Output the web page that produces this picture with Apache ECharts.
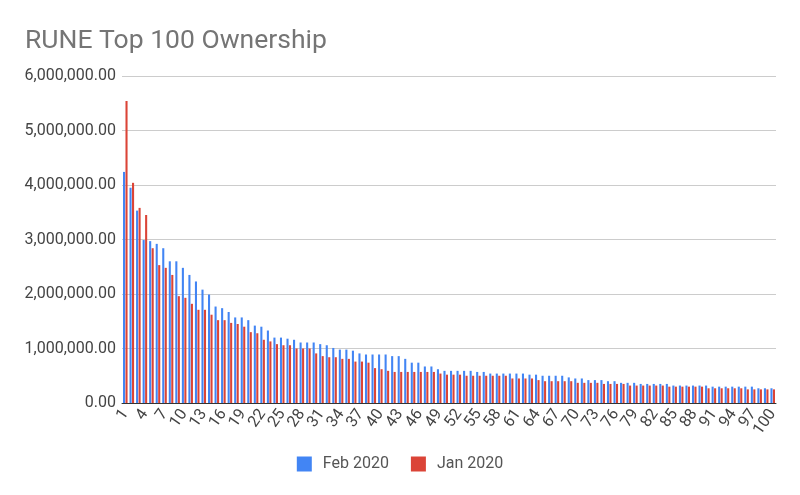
<!DOCTYPE html>
<html>
<head>
<meta charset="utf-8">
<script src="https://cdn.jsdelivr.net/npm/echarts@6/dist/echarts.min.js"></script>
<style>
html,body{margin:0;padding:0;background:#fff;}
#chart{width:800px;height:495px;}
</style>
</head>
<body>
<div id="chart"></div>
<script>
// ranks 1..100
var ranks = [];
for (var i = 1; i <= 100; i++) ranks.push(String(i));

// values in millions
var feb2020 = [
  4.24,3.95,3.53,2.99,2.97,2.92,2.84,2.60,2.60,2.48,
  2.35,2.23,2.08,1.99,1.77,1.74,1.67,1.57,1.57,1.52,
  1.42,1.40,1.33,1.20,1.20,1.18,1.16,1.11,1.11,1.11,
  1.08,1.06,1.01,0.98,0.98,0.96,0.91,0.89,0.89,0.89,
  0.89,0.86,0.86,0.81,0.74,0.74,0.67,0.67,0.62,0.59,
  0.59,0.59,0.59,0.59,0.57,0.57,0.54,0.54,0.54,0.54,
  0.54,0.54,0.52,0.52,0.50,0.50,0.50,0.50,0.47,0.45,
  0.45,0.42,0.42,0.42,0.40,0.40,0.37,0.37,0.37,0.35,
  0.35,0.35,0.35,0.35,0.32,0.32,0.32,0.32,0.32,0.32,
  0.30,0.30,0.30,0.30,0.30,0.30,0.30,0.27,0.27,0.27
];
var jan2020 = [
  5.54,4.04,3.58,3.45,2.84,2.53,2.48,2.35,1.96,1.93,
  1.82,1.71,1.71,1.62,1.52,1.52,1.47,1.45,1.40,1.30,
  1.28,1.16,1.13,1.08,1.06,1.06,1.00,1.00,1.00,0.91,
  0.86,0.84,0.84,0.81,0.81,0.76,0.76,0.74,0.64,0.62,
  0.59,0.57,0.57,0.57,0.57,0.57,0.57,0.57,0.54,0.52,
  0.52,0.52,0.50,0.50,0.50,0.50,0.50,0.50,0.50,0.45,
  0.45,0.45,0.45,0.42,0.40,0.40,0.40,0.40,0.40,0.37,
  0.37,0.37,0.37,0.35,0.35,0.35,0.35,0.32,0.32,0.32,
  0.32,0.32,0.32,0.30,0.30,0.30,0.30,0.30,0.30,0.27,
  0.27,0.27,0.27,0.27,0.27,0.25,0.25,0.25,0.25,0.25
];

function toUnits(arr){
  var out = [];
  for (var i = 0; i < arr.length; i++) out.push(Math.round(arr[i] * 1000000));
  return out;
}
function fmt(v){
  return v.toLocaleString('en-US', {minimumFractionDigits:2, maximumFractionDigits:2});
}

var myChart = echarts.init(document.getElementById('chart'));
var option = {
  animation: false,
  textStyle: { fontFamily: 'Roboto' },
  title: {
    text: 'RUNE Top 100 Ownership',
    left: 20, top: 23,
    textStyle: { fontFamily: 'Roboto', fontSize: 26.5, fontWeight: 'normal', color: '#757575' }
  },
  legend: {
    data: ['Feb 2020', 'Jan 2020'],
    bottom: 18,
    left: 'center',
    itemWidth: 15, itemHeight: 15,
    itemGap: 22,
    icon: 'rect',
    textStyle: { fontFamily: 'Roboto', fontSize: 16, color: '#555', padding: [0, 0, 0, 6] }
  },
  color: ['#4285F4', '#DB4437'],
  grid: { left: 122, right: 24, top: 76, bottom: 92 },
  xAxis: {
    type: 'category',
    data: ranks,
    axisLine: { lineStyle: { color: '#333', width: 1 } },
    axisTick: { show: false },
    axisLabel: {
      interval: 2, rotate: 55, margin: 8,
      fontFamily: 'Roboto', fontSize: 16, color: '#444'
    }
  },
  yAxis: {
    type: 'value',
    min: 0, max: 6000000, interval: 1000000,
    axisLine: { show: false },
    axisTick: { show: false },
    splitLine: { lineStyle: { color: '#cccccc', width: 1 } },
    axisLabel: {
      margin: 6, fontFamily: 'Roboto', fontSize: 16, color: '#444',
      formatter: function(v){ return fmt(v); }
    }
  },
  series: [
    { name: 'Feb 2020', type: 'bar', data: toUnits(feb2020), barGap: '20%', barCategoryGap: '30%' },
    { name: 'Jan 2020', type: 'bar', data: toUnits(jan2020), barGap: '20%', barCategoryGap: '30%' }
  ]
};
myChart.setOption(option);
window.addEventListener("resize", function(){ myChart.resize(); });
</script>
</body>
</html>
